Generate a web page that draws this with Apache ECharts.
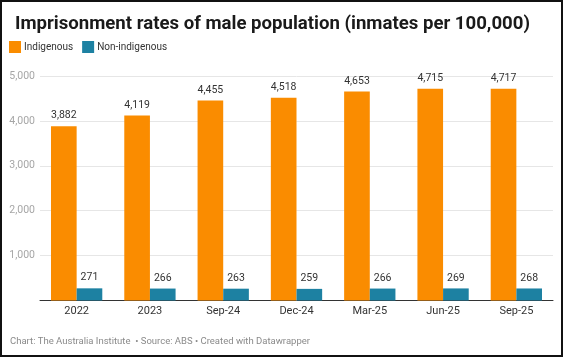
<!DOCTYPE html>
<html><head><meta charset="utf-8">
<script src="https://cdn.jsdelivr.net/npm/echarts@6/dist/echarts.min.js"></script>
<style>
html,body{margin:0;padding:0;background:#fff;}
#frame{position:absolute;left:0;top:0;width:563px;height:357px;box-sizing:border-box;border:2px solid #111;}
#c{position:absolute;left:0;top:0;width:563px;height:357px;}
</style></head>
<body>
<div id="c"></div><div id="frame"></div>
<script>
const categories = ['2022','2023','Sep-24','Dec-24','Mar-25','Jun-25','Sep-25'];
const indigenous = [3882,4119,4455,4518,4653,4715,4717];
const nonIndigenous = [271,266,263,259,266,269,268];
const yTicks = [0,1000,2000,3000,4000,5000];
const titleText = 'Imprisonment rates of male population (inmates per 100,000)';
const footerText = 'Chart: The Australia Institute  \u2022 Source: ABS \u2022 Created with Datawrapper';

const FONT = 'Roboto';
const chart = echarts.init(document.getElementById('c'), null, {renderer:'canvas'});
const fmt = v => v.toLocaleString('en-US');
const lbl = {show:true, position:'top', distance:5, color:'#333', fontFamily:FONT, fontSize:10.5, formatter:p=>fmt(p.value)};
chart.setOption({
  animation:false,
  title:{text:titleText, left:10, top:10, textStyle:{fontFamily:FONT, fontWeight:'bold', fontSize:18.6, color:'#1a1a1a'}},
  legend:{left:9, top:41, itemWidth:12, itemHeight:12, itemGap:9, icon:'rect', padding:0,
    textStyle:{fontFamily:FONT, fontSize:10, color:'#333', padding:[0,0,0,-2]},
    data:['Indigenous','Non-indigenous']},
  graphic:[{type:'text', left:10, top:336.5, style:{text:footerText, fontFamily:FONT, fontSize:9.5, fill:'#8a8a8a'}}],
  grid:{left:40, right:10, top:76, bottom:56.5, containLabel:false},
  xAxis:{type:'category', data:categories,
    axisLine:{lineStyle:{color:'#333', width:1}}, axisTick:{show:false},
    axisLabel:{color:'#333', fontFamily:FONT, fontSize:11, margin:5}},
  yAxis:{type:'value', min:yTicks[0], max:yTicks[yTicks.length-1], interval:1000,
    axisLine:{show:false}, axisTick:{show:false},
    splitLine:{lineStyle:{color:'#e6e6e6', width:1}},
    axisLabel:{color:'#a6a6a6', fontFamily:FONT, fontSize:10.5, margin:5, formatter:v=>v===0?'':fmt(v)}},
  series:[
    {name:'Indigenous', type:'bar', data:indigenous, barGap:'0%', barCategoryGap:'30%', itemStyle:{color:'#fa8c00'}, label:lbl},
    {name:'Non-indigenous', type:'bar', data:nonIndigenous, itemStyle:{color:'#1d81a2'}, label:lbl}
  ]
});
</script>
</body></html>
